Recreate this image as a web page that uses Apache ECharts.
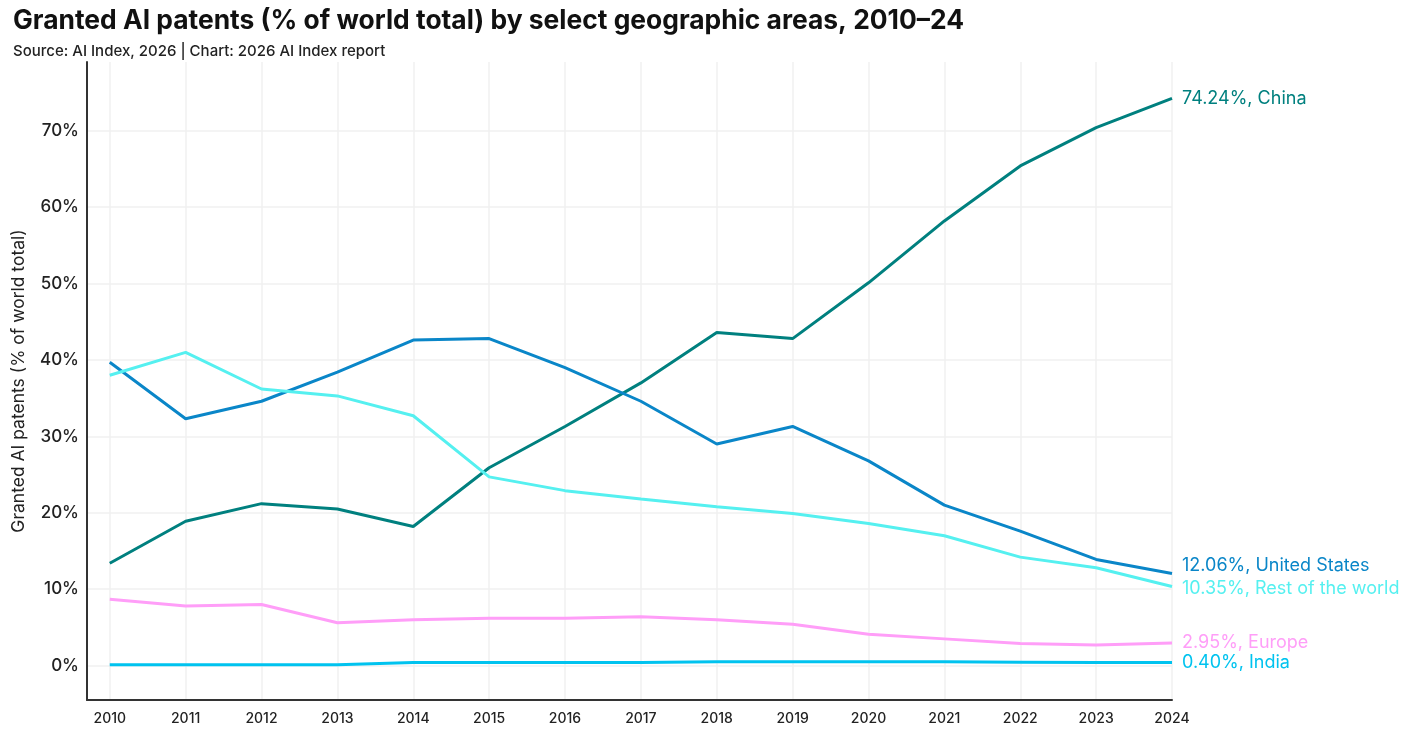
<!DOCTYPE html>
<html>
<head>
<meta charset="utf-8">
<script src="https://cdn.jsdelivr.net/npm/echarts@6/dist/echarts.min.js"></script>
<style>html,body{margin:0;padding:0;background:#fff;}#c{width:1414px;height:744px;}</style>
</head>
<body>
<div id="c"></div>
<script>
const years = [2010,2011,2012,2013,2014,2015,2016,2017,2018,2019,2020,2021,2022,2023,2024];
const china = [13.4, 18.9, 21.2, 20.5, 18.2, 25.9, 31.3, 37.0, 43.6, 42.8, 50.1, 58.2, 65.4, 70.4, 74.24];
const unitedStates = [39.7, 32.3, 34.6, 38.4, 42.6, 42.8, 39.0, 34.6, 29.0, 31.3, 26.8, 21.0, 17.6, 13.9, 12.06];
const restOfWorld = [38.0, 41.0, 36.2, 35.3, 32.7, 24.7, 22.9, 21.8, 20.8, 19.9, 18.6, 17.0, 14.2, 12.8, 10.35];
const europe = [8.7, 7.8, 8.0, 5.6, 6.0, 6.2, 6.2, 6.4, 6.0, 5.4, 4.1, 3.5, 2.9, 2.7, 2.95];
const india = [0.1, 0.1, 0.1, 0.1, 0.4, 0.4, 0.4, 0.4, 0.5, 0.5, 0.5, 0.5, 0.45, 0.4, 0.40];

const FONT = 'Inter, "Noto Sans", sans-serif';
const seriesDefs = [
  {name:'China', data:china, color:'#00807f', offset:[0,0]},
  {name:'United States', data:unitedStates, color:'#0a86c8', offset:[0,-8]},
  {name:'Rest of the world', data:restOfWorld, color:'#55f0f0', offset:[0,2]},
  {name:'Europe', data:europe, color:'#ff9ef8', offset:[0,0]},
  {name:'India', data:india, color:'#00c3ef', offset:[0,0]}
];

const chart = echarts.init(document.getElementById('c'), null, {renderer:'canvas'});
const gridCol = '#f0f0f0';
chart.setOption({
  animation:false,
  backgroundColor:'#fff',
  title:[
    {text:'Granted AI patents (% of world total) by select geographic areas, 2010–24', left:8, top:3,
     textStyle:{fontFamily:FONT, fontSize:26.4, fontWeight:'bold', color:'#111'}},
    {text:'Source: AI Index, 2026 | Chart: 2026 AI Index report', left:8, top:39,
     textStyle:{fontFamily:FONT, fontSize:15, fontWeight:500, color:'#222'}}
  ],
  grid:{left:87, right:242, top:62, bottom:44, containLabel:false, outerBoundsMode:'none'},
  xAxis:{
    type:'value', min:2009.7, max:2024, minInterval:1, maxInterval:1,
    axisLine:{show:true, onZero:false, lineStyle:{color:'#333', width:2}},
    axisTick:{show:false},
    axisLabel:{fontFamily:FONT, fontSize:14, fontWeight:500, color:'#222', margin:12,
      formatter:v => Number.isInteger(v) ? String(v) : '' , showMinLabel:true, showMaxLabel:true},
    splitLine:{show:true, lineStyle:{color:['transparent', gridCol, gridCol, gridCol, gridCol, gridCol, gridCol, gridCol, gridCol, gridCol, gridCol, gridCol, gridCol, gridCol, gridCol, gridCol], width:1.5}}
  },
  yAxis:{
    type:'value', min:-4.5, max:79, minInterval:10, maxInterval:10,
    name:'Granted AI patents (% of world total)', nameLocation:'middle', nameGap:59,
    nameTextStyle:{fontFamily:FONT, fontSize:17.5, color:'#222'},
    axisLine:{show:true, lineStyle:{color:'#333', width:2}},
    axisTick:{show:false},
    axisLabel:{fontFamily:FONT, fontSize:17, fontWeight:500, color:'#222', margin:8,
      formatter:v => (Math.abs(v % 10) < 1e-9 && v >= 0) ? v + '%' : ''},
    splitLine:{show:true, lineStyle:{color:['transparent', gridCol, gridCol, gridCol, gridCol, gridCol, gridCol, gridCol, gridCol, 'transparent'], width:1.5}}
  },
  series: seriesDefs.map(s => ({
    type:'line', name:s.name,
    data: years.map((y,i) => [y, s.data[i]]),
    showSymbol:false, symbol:'none',
    lineStyle:{color:s.color, width:3},
    itemStyle:{color:s.color},
    endLabel:{show:true, distance:10, offset:s.offset, fontFamily:FONT, fontSize:18, color:s.color,
      formatter: p => p.value[1].toFixed(2) + '%, ' + s.name}
  }))
});
</script>
</body>
</html>
